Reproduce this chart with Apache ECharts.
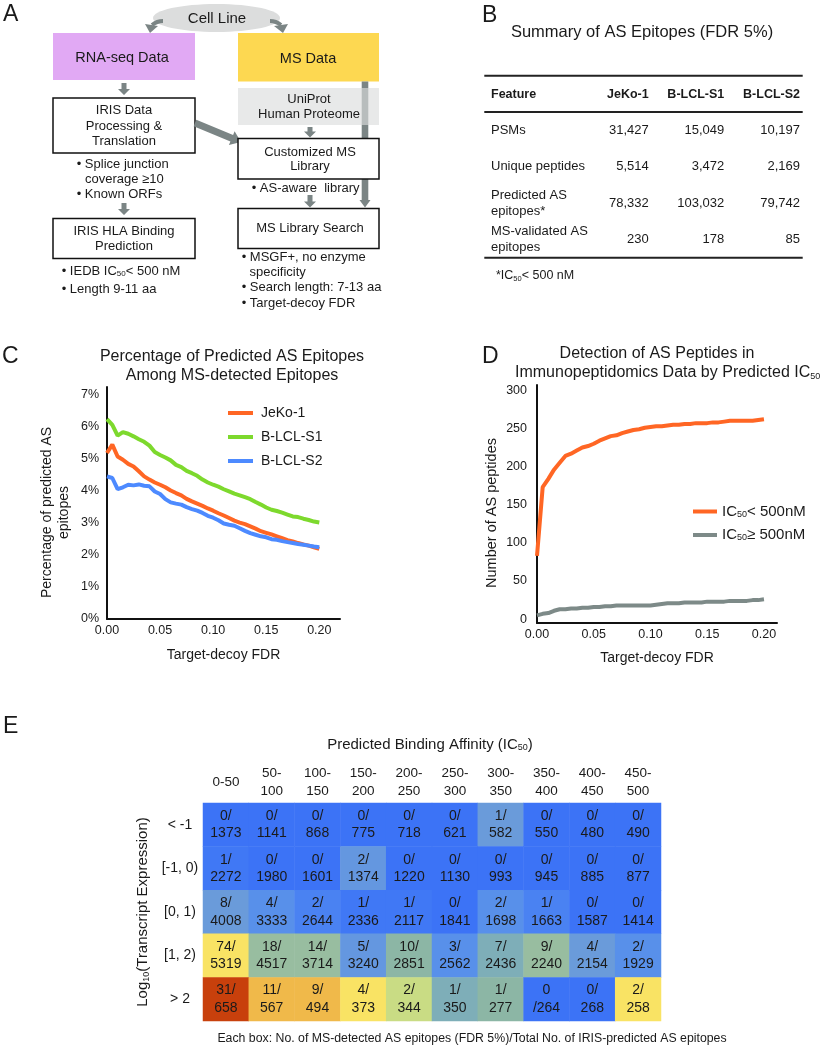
<!DOCTYPE html>
<html><head><meta charset="utf-8">
<script src="https://cdn.jsdelivr.net/npm/echarts@6/dist/echarts.min.js"></script>
<style>html,body{margin:0;padding:0;background:#fff}#chart{width:828px;height:1051px}</style>
</head><body><div id="chart"></div>
<script>
// ---------------- DATA ----------------
const fdr = [0,0.005,0.01,0.015,0.02,0.025,0.03,0.035,0.04,0.045,0.05,0.055,0.06,0.065,0.07,0.075,0.08,0.085,0.09,0.095,0.1,0.105,0.11,0.115,0.12,0.125,0.13,0.135,0.14,0.145,0.15,0.155,0.16,0.165,0.17,0.175,0.18,0.185,0.19,0.195,0.2];
const seriesNamesC = ['JeKo-1','B-LCL-S1','B-LCL-S2'];
const jeko1Pct = [5.18,5.44,5.07,4.97,4.84,4.76,4.61,4.45,4.35,4.26,4.19,4.11,4.01,3.93,3.86,3.75,3.67,3.60,3.53,3.45,3.38,3.30,3.23,3.15,3.07,3.01,2.96,2.89,2.82,2.74,2.69,2.64,2.58,2.52,2.46,2.42,2.37,2.33,2.29,2.24,2.19];
const blcls1Pct = [6.24,6.06,5.72,5.83,5.78,5.70,5.61,5.53,5.41,5.21,5.12,5.04,4.95,4.81,4.74,4.62,4.55,4.47,4.35,4.26,4.19,4.13,4.05,3.98,3.91,3.86,3.80,3.74,3.65,3.57,3.48,3.41,3.37,3.32,3.26,3.20,3.18,3.13,3.09,3.04,3.01];
const blcls2Pct = [4.45,4.40,4.05,4.11,4.19,4.17,4.20,4.16,4.14,3.98,3.90,3.74,3.64,3.60,3.57,3.49,3.43,3.38,3.31,3.22,3.16,3.08,2.98,2.94,2.91,2.83,2.75,2.68,2.63,2.58,2.55,2.49,2.47,2.43,2.40,2.37,2.34,2.32,2.29,2.26,2.24];

const seriesNamesD = ['IC50< 500nM','IC50≥ 500nM'];
const icBelow500 = [83,173,184,196,205,214,217,221,225,227,230,234,237,240,241,244,246,248,249,251,252,253,253,254,255,255,256,256,257,257,257,258,258,259,260,260,260,260,260,261,262];
const icAbove500 = [5,7,8,11,13,13,14,14,15,15,16,16,17,17,18,18,18,18,18,18,18,19,20,21,21,21,22,22,22,22,23,23,23,23,24,24,24,24,25,25,26];

const affinityBins = ['0-50','50-\n100','100-\n150','150-\n200','200-\n250','250-\n300','300-\n350','350-\n400','400-\n450','450-\n500'];
const exprBins = ['< -1','[-1, 0)','[0, 1)','[1, 2)','> 2'];
const msDetected = [
  [0,0,0,0,0,0,1,0,0,0],
  [1,0,0,2,0,0,0,0,0,0],
  [8,4,2,1,1,0,2,1,0,0],
  [74,18,14,5,10,3,7,9,4,2],
  [31,11,9,4,2,1,1,0,0,2]
];
const irisPredicted = [
  [1373,1141,868,775,718,621,582,550,480,490],
  [2272,1980,1601,1374,1220,1130,993,945,885,877],
  [4008,3333,2644,2336,2117,1841,1698,1663,1587,1414],
  [5319,4517,3714,3240,2851,2562,2436,2240,2154,1929],
  [658,567,494,373,344,350,277,264,268,258]
];
const cellLabelOverride = {'4,7': '0\n/264'};

const tableHeader = ['Feature','JeKo-1','B-LCL-S1','B-LCL-S2'];
const tableRows = [
  ['PSMs','31,427','15,049','10,197'],
  ['Unique peptides','5,514','3,472','2,169'],
  ['Predicted AS\nepitopes*','78,332','103,032','79,742'],
  ['MS-validated AS\nepitopes','230','178','85']
];

// ---------------- STYLE ----------------
const F = "'Liberation Sans', Arial, Helvetica, sans-serif";
const INK = '#1a1a1a';
const GR = '#7b8585';
const ORANGE = '#ff6624', GREEN = '#7dd92d', BLUE = '#4d8aff', GRAY = '#7d8a88';

function tx(x, y, text, size, align, extra) {
  return {type:'text', x:x, y:y, silent:true,
    style:Object.assign({text:text, fontSize:size, fontFamily:F, fill:INK, align:align||'left', verticalAlign:'middle'}, extra||{})};
}
const subRich = (size) => ({s:{fontSize:size, fontFamily:F, fill:INK, verticalAlign:'bottom', lineHeight:size}});
function rect(x,y,w,h,style){ return {type:'rect', shape:{x:x,y:y,width:w,height:h}, style:style}; }
function downArrow(cx, y1, y2) {
  const hl=6, sw=2.5, hw=6;
  return {type:'polygon', shape:{points:[[cx-sw,y1],[cx+sw,y1],[cx+sw,y2-hl],[cx+hw,y2-hl],[cx,y2],[cx-hw,y2-hl],[cx-sw,y2-hl]]}, style:{fill:GR}};
}
function arrow(x1,y1,x2,y2,sw,hw,hl) {
  const dx=x2-x1, dy=y2-y1, L=Math.hypot(dx,dy), ux=dx/L, uy=dy/L, nx=-uy, ny=ux;
  const bx=x2-ux*hl, by=y2-uy*hl;
  return {type:'polygon', shape:{points:[[x1+nx*sw,y1+ny*sw],[bx+nx*sw,by+ny*sw],[bx+nx*hw,by+ny*hw],[x2,y2],[bx-nx*hw,by-ny*hw],[bx-nx*sw,by-ny*sw],[x1-nx*sw,y1-ny*sw]]}, style:{fill:GR}};
}
const boxStroke = {fill:'#fff', stroke:'#111', lineWidth:1.5};

const G = [];
// panel letters
[['A',3,15],['B',482,15.5],['C',2,356.5],['D',482,356.5],['E',3,726.5]].forEach(l => G.push(tx(l[1],l[2],l[0],23,'left')));

// ---- Panel A flowchart ----
G.push({type:'ellipse', shape:{cx:216.5, cy:18, rx:63.5, ry:14}, style:{fill:'#dcdddd'}});
G.push(tx(217,19,'Cell Line',15,'center'));
G.push({type:'bezierCurve', shape:{x1:163,y1:21,cpx1:157,cpy1:21,x2:152,y2:25}, style:{stroke:GR, lineWidth:4, fill:null}});
G.push({type:'polygon', shape:{points:[[145,24],[158,26],[150,33]]}, style:{fill:GR}});
G.push({type:'bezierCurve', shape:{x1:270,y1:21,cpx1:276,cpy1:21,x2:281,y2:25}, style:{stroke:GR, lineWidth:4, fill:null}});
G.push({type:'polygon', shape:{points:[[274,26],[288,24],[283,33]]}, style:{fill:GR}});
G.push(rect(53,33,142,47,{fill:'#e1a9f4'}));
G.push(tx(122,58,'RNA-seq Data',14.5,'center'));
G.push(rect(238,33,141,48.5,{fill:'#fdd851'}));
G.push(tx(308,59,'MS Data',14.5,'center'));
// long bar arrow from MS Data to MS Library Search
G.push(rect(361.7,81.5,6.6,119,{fill:GR}));
G.push({type:'polygon', shape:{points:[[359.5,200],[370.5,200],[365,207.5]]}, style:{fill:GR}});
G.push(rect(238,88,141,37,{fill:'rgba(219,221,221,0.64)'}));
G.push(tx(309,99,'UniProt',13,'center'));
G.push(tx(309,114.3,'Human Proteome',13,'center'));
G.push(downArrow(124,83,95));
G.push(rect(53,98,142,55,boxStroke));
G.push(tx(124,110,'IRIS Data',13,'center'));
G.push(tx(124,126,'Processing &',13,'center'));
G.push(tx(124,141,'Translation',13,'center'));
G.push(arrow(195,123,241,142,3.5,7.5,10));
G.push(downArrow(310,127,137.5));
G.push(rect(238,138.5,141,40.5,boxStroke));
G.push(tx(310,152,'Customized MS',13,'center'));
G.push(tx(310,166.5,'Library',13,'center'));
G.push(tx(251.7,188.3,'• AS-aware  library',13,'left'));
G.push(downArrow(310,195,207.5));
G.push(rect(238,208.5,141,40,boxStroke));
G.push(tx(310,228.5,'MS Library Search',13,'center'));
G.push(tx(76.7,164.5,'• Splice junction',13,'left'));
G.push(tx(85,179,'coverage ≥10',13,'left'));
G.push(tx(76.7,194,'• Known ORFs',13,'left'));
G.push(downArrow(124,203,215));
G.push(rect(53,218.5,142,40,boxStroke));
G.push(tx(124,231,'IRIS HLA Binding',13,'center'));
G.push(tx(124,246.5,'Prediction',13,'center'));
G.push(tx(61.7,271.7,'• IEDB IC{s|50}< 500 nM',13,'left',{rich:subRich(8)}));
G.push(tx(61.7,289.3,'• Length 9-11 aa',13,'left'));
G.push(tx(241.7,257.7,'• MSGF+, no enzyme',13,'left'));
G.push(tx(249.5,272.3,'specificity',13,'left'));
G.push(tx(241.7,287.3,'• Search length: 7-13 aa',13,'left'));
G.push(tx(241.7,303.3,'• Target-decoy FDR',13,'left'));

// ---- Panel B table ----
const colRight = [648.7, 724.3, 800];
const rowY = [130, 166.7, 203, 239.5];
[75.7, 112, 257.7].forEach(y => G.push({type:'line', shape:{x1:484.3,y1:y,x2:802.7,y2:y}, style:{stroke:'#222', lineWidth:2}}));
G.push(tx(491,94.3,tableHeader[0],12.5,'left',{fontWeight:'bold'}));
tableHeader.slice(1).forEach((h,i) => G.push(tx(colRight[i],94.3,h,12.5,'right',{fontWeight:'bold'})));
tableRows.forEach((r,ri) => {
  G.push(tx(491,rowY[ri],r[0],13,'left',{lineHeight:16}));
  r.slice(1).forEach((v,ci) => G.push(tx(colRight[ci],rowY[ri],v,13,'right')));
});
G.push(tx(496,276,'*IC{s|50}< 500 nM',12.5,'left',{rich:subRich(7.5)}));

// ---- Panel E footer ----
G.push(tx(472,1039,'Each box: No. of MS-detected AS epitopes (FDR 5%)/Total No. of IRIS-predicted AS epitopes',12.3,'center'));

// ---------------- HEATMAP DATA ----------------
const heatData = [];
exprBins.forEach((_, r) => affinityBins.forEach((_, c) => {
  heatData.push([c, r, msDetected[r][c] / irisPredicted[r][c] * 100, msDetected[r][c], irisPredicted[r][c]]);
}));

const axisLineStyle = {show:true, onZero:false, lineStyle:{color:'#111', width:2}};
const lbl = {fontSize:12.5, fontFamily:F, color:INK};
const richSub = (n, s) => ({n:{fontSize:n, fontFamily:F, color:INK, lineHeight:n}, s:{fontSize:s, fontFamily:F, color:INK, verticalAlign:'bottom', lineHeight:s}});
const near = (v, step) => Math.abs(v/step - Math.round(v/step)) < 1e-6;

const option = {
  backgroundColor:'#fff',
  animation:false,
  textStyle:{fontFamily:F},
  graphic:{elements:G},
  title:[
    {text:'Summary of AS Epitopes (FDR 5%)', left:642, top:32.3, textAlign:'center', textVerticalAlign:'middle', padding:0,
     textStyle:{fontSize:16.5, fontWeight:'normal', fontFamily:F, color:INK}},
    {text:'Percentage of Predicted AS Epitopes\nAmong MS-detected Epitopes', left:232, top:366.2, textAlign:'center', textVerticalAlign:'middle', padding:0,
     textStyle:{fontSize:16, fontWeight:'normal', fontFamily:F, color:INK, lineHeight:19}},
    {text:'Detection of AS Peptides in', left:657, top:354, textAlign:'center', textVerticalAlign:'middle', padding:0,
     textStyle:{fontSize:16, fontWeight:'normal', fontFamily:F, color:INK}},
    {text:'{n|Immunopeptidomics Data by Predicted IC}{s|50}', left:515, top:373, textAlign:'left', textVerticalAlign:'middle', padding:0,
     textStyle:{fontSize:16, fontWeight:'normal', fontFamily:F, color:INK, rich:richSub(16,9)}},
    {text:'{n|Predicted Binding Affinity (IC}{s|50}{n|)}', left:430, top:745, textAlign:'center', textVerticalAlign:'middle', padding:0,
     textStyle:{fontSize:15, fontWeight:'normal', fontFamily:F, color:INK, rich:richSub(15,9)}}
  ],
  legend:[
    {data:seriesNamesC, orient:'vertical', left:228, top:406, padding:0, itemWidth:25, itemHeight:4, itemGap:10, icon:'rect', selectedMode:false,
     textStyle:{fontSize:14, fontFamily:F, color:INK, lineHeight:14, padding:[0,0,0,3]}},
    {data:seriesNamesD, orient:'vertical', left:693, top:504, padding:0, itemWidth:24, itemHeight:4, itemGap:8.5, icon:'rect', selectedMode:false,
     formatter: name => '{n|IC}{s|50}{n|' + name.slice(4) + '}',
     textStyle:{fontSize:15, fontFamily:F, color:INK, rich:richSub(15,9)}}
  ],
  grid:[
    {left:107, top:387, width:233, height:232},
    {left:537, top:385, width:240, height:238},
    {left:203, top:803, width:458, height:218}
  ],
  xAxis:[
    {gridIndex:0, type:'value', min:0, max:0.2195, interval:0.05, axisLine:axisLineStyle, axisTick:{show:false}, splitLine:{show:false},
     axisLabel:Object.assign({margin:5, formatter: v => near(v,0.05) && v <= 0.2001 ? v.toFixed(2) : ''}, lbl),
     name:'Target-decoy FDR', nameLocation:'middle', nameGap:29, nameTextStyle:{fontSize:14, fontFamily:F, color:INK}},
    {gridIndex:1, type:'value', min:0, max:0.2115, interval:0.05, axisLine:axisLineStyle, axisTick:{show:false}, splitLine:{show:false},
     axisLabel:Object.assign({margin:5, formatter: v => near(v,0.05) && v <= 0.2001 ? v.toFixed(2) : ''}, lbl),
     name:'Target-decoy FDR', nameLocation:'middle', nameGap:28, nameTextStyle:{fontSize:14, fontFamily:F, color:INK}},
    {gridIndex:2, type:'category', position:'top', data:affinityBins, axisLine:{show:false}, axisTick:{show:false}, splitLine:{show:false},
     axisLabel:{fontSize:13.5, fontFamily:F, color:INK, lineHeight:18, verticalAlign:'middle', margin:21, interval:0}}
  ],
  yAxis:[
    {gridIndex:0, type:'value', min:0, max:7.24, interval:1, axisLine:axisLineStyle, axisTick:{show:false}, splitLine:{show:false},
     axisLabel:Object.assign({margin:8, formatter: v => near(v,1) ? Math.round(v) + '%' : ''}, lbl),
     name:'Percentage of predicted AS\nepitopes', nameLocation:'middle', nameRotate:90, nameGap:35,
     nameTextStyle:{fontSize:14, fontFamily:F, color:INK, lineHeight:16.6, padding:[0,19,0,0]}},
    {gridIndex:1, type:'value', min:-5, max:307, splitNumber:6, axisLine:axisLineStyle, axisTick:{show:false}, splitLine:{show:false},
     axisLabel:Object.assign({margin:10, formatter: v => (v >= 0 && near(v,50)) ? String(Math.round(v)) : ''}, lbl),
     name:'Number of AS peptides', nameLocation:'middle', nameRotate:90, nameGap:38,
     nameTextStyle:{fontSize:14.5, fontFamily:F, color:INK, padding:[0,18,0,0]}},
    {gridIndex:2, type:'category', inverse:true, data:exprBins, axisLine:{show:false}, axisTick:{show:false}, splitLine:{show:false},
     axisLabel:{fontSize:14, fontFamily:F, color:INK, align:'center', margin:23},
     name:'{n|Log}{s|10}{n|(Transcript Expression)}', nameLocation:'middle', nameRotate:90, nameGap:50,
     nameTextStyle:{rich:richSub(15,9)}}
  ],
  visualMap:{
    type:'piecewise', show:false, seriesIndex:5, dimension:2,
    pieces:[
      {gte:0, lt:0.03, color:'#3c73f6'},
      {gte:0.03, lt:0.055, color:'#4078f5'},
      {gte:0.055, lt:0.09, color:'#4a82f2'},
      {gte:0.09, lt:0.13, color:'#5890ea'},
      {gte:0.13, lt:0.16, color:'#6497e0'},
      {gte:0.16, lt:0.21, color:'#6a9bda'},
      {gte:0.21, lt:0.3, color:'#7eaeb8'},
      {gte:0.3, lt:0.37, color:'#8cb6a5'},
      {gte:0.37, lt:0.45, color:'#98bda0'},
      {gte:0.45, lt:0.7, color:'#c9dc84'},
      {gte:0.7, lt:1.6, color:'#f9e364'},
      {gte:1.6, lt:3, color:'#f0b94a'},
      {gte:3, lt:100, color:'#c8400c'}
    ]
  },
  series:[
    {name:seriesNamesC[0], type:'line', xAxisIndex:0, yAxisIndex:0, data:fdr.map((x,i)=>[x,jeko1Pct[i]]), symbol:'none', color:ORANGE, lineStyle:{width:4, color:ORANGE}},
    {name:seriesNamesC[1], type:'line', xAxisIndex:0, yAxisIndex:0, data:fdr.map((x,i)=>[x,blcls1Pct[i]]), symbol:'none', color:GREEN, lineStyle:{width:4, color:GREEN}},
    {name:seriesNamesC[2], type:'line', xAxisIndex:0, yAxisIndex:0, data:fdr.map((x,i)=>[x,blcls2Pct[i]]), symbol:'none', color:BLUE, lineStyle:{width:4, color:BLUE}},
    {name:seriesNamesD[0], type:'line', xAxisIndex:1, yAxisIndex:1, data:fdr.map((x,i)=>[x,icBelow500[i]]), symbol:'none', color:ORANGE, lineStyle:{width:4, color:ORANGE}},
    {name:seriesNamesD[1], type:'line', xAxisIndex:1, yAxisIndex:1, data:fdr.map((x,i)=>[x,icAbove500[i]]), symbol:'none', color:GRAY, lineStyle:{width:4, color:GRAY}},
    {type:'heatmap', xAxisIndex:2, yAxisIndex:2, data:heatData, emphasis:{disabled:true},
     label:{show:true, fontSize:14, fontFamily:F, color:INK, lineHeight:17.5,
       formatter: p => cellLabelOverride[p.data[1]+','+p.data[0]] || (p.data[3] + '/\n' + p.data[4])}}
  ]
};
const chart = echarts.init(document.getElementById('chart'), null, {renderer:'canvas'});
chart.setOption(option);
</script></body></html>
